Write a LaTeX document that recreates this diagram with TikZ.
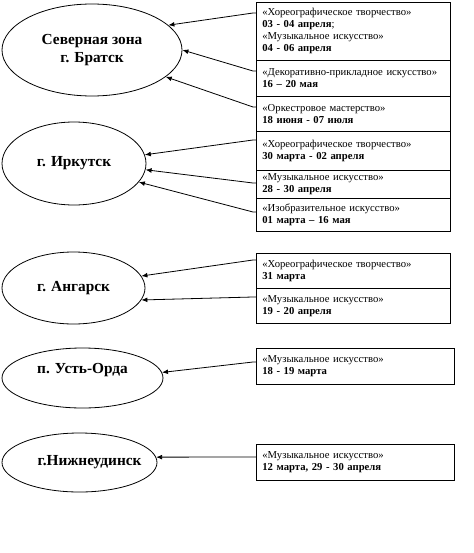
\documentclass[tikz,border=0pt]{standalone}
\usepackage{fontspec}
\setmainfont{Liberation Serif}
\usetikzlibrary{shapes.geometric, arrows.meta}
\tikzset{
  town/.style={ellipse, draw, line width=0.6pt, inner sep=0pt, align=center,
    font=\bfseries\fontsize{11.5}{13.5}\selectfont},
  event/.style={draw, line width=0.6pt, anchor=north west, align=left,
    text width=136.5pt, inner xsep=4.5pt, inner ysep=2pt,
    font=\fontsize{8}{9}\selectfont},
  eventwide/.style={event, text width=139.5pt},
  conn/.style={line width=0.6pt, -{Latex[length=4.5pt,width=3.6pt]}}
}
\begin{document}
\begin{tikzpicture}[x=0.75pt, y=-0.75pt]
            \useasboundingbox (0,0) rectangle (474,553);
            \node[town, minimum width=135pt, minimum height=69pt] (bratsk) at (92,50) {Северная зона\\г. Братск};
            \node[town, minimum width=108pt, minimum height=62.25pt] (irkutsk) at (74,163.5) {г. Иркутск};
            \node[town, minimum width=107.25pt, minimum height=54pt] (angarsk) at (73.5,288) {г. Ангарск};
            \node[town, minimum width=120.75pt, minimum height=45pt] (ustorda) at (82.5,378) {\raisebox{6pt}[\height][\depth]{п. Усть-Орда}};
            \node[town, minimum width=116.25pt, minimum height=44.25pt] (nizhn) at (79.5,462.5) {\makebox[0pt]{\hspace{15pt}г.Нижнеудинск}};
            \node[event, minimum height=43.5pt] (brA) at (256,2) {«Хореографическое творчество»\\\textbf{03 - 04 апреля};\\«Музыкальное искусство»\\\textbf{04 - 06 апреля}};
            \node[event, minimum height=27pt] (brB) at (256,60) {«Декоративно-прикладное искусство»\\\textbf{16 – 20 мая}};
            \node[event, minimum height=26.25pt] (brC) at (256,96) {«Оркестровое мастерство»\\\textbf{18 июня - 07 июля}};
            \node[event, minimum height=29.25pt] (irA) at (256,131) {«Хореографическое творчество»\\\textbf{30 марта - 02 апреля}};
            \node[event, minimum height=21pt] (irB) at (256,170) {«Музыкальное искусство»\\\textbf{28 - 30 апреля}};
            \node[event, minimum height=24.75pt] (irC) at (256,198) {«Изобразительное искусство»\\\textbf{01 марта – 16 мая}};
            \node[event, minimum height=26.25pt] (anA) at (256,253) {«Хореографическое творчество»\\\textbf{31 марта}};
            \node[event, minimum height=26.25pt] (anB) at (256,288) {«Музыкальное искусство»\\\textbf{19 - 20 апреля}};
            \node[eventwide, minimum height=27pt] (uoA) at (256,348) {«Музыкальное искусство»\\\textbf{18 - 19 марта}};
            \node[eventwide, minimum height=27pt] (niA) at (256,444) {«Музыкальное искусство»\\\textbf{12 марта, 29 - 30 апреля}};
            \draw[conn] ([yshift=-8.25pt]brA.north west) -- ++(-3,0) -- (bratsk.18);
            \draw[conn] ([yshift=-8.25pt]brB.north west) -- ++(-3,0) -- (bratsk.0);
            \draw[conn] ([yshift=-8.25pt]brC.north west) -- ++(-3,0) -- (bratsk.-20);
            \draw[conn] ([yshift=-6.75pt]irA.north west) -- ++(-3,0) -- (irkutsk.7);
            \draw[conn] ([yshift=-9.75pt]irB.north west) -- ++(-3,0) -- (irkutsk.-5);
            \draw[conn] ([yshift=-10.5pt]irC.north west) -- ++(-3,0) -- (irkutsk.-16);
            \draw[conn] ([yshift=-5.25pt]anA.north west) -- ++(-3,0) -- (angarsk.10);
            \draw[conn] ([yshift=-6.75pt]anB.north west) -- ++(-3,0) -- (angarsk.-10);
            \draw[conn] ([yshift=-10.5pt]uoA.north west) -- ++(-3,0) -- (ustorda.4);
            \draw[conn] ([yshift=-9.75pt]niA.north west) -- ++(-3,0) -- (nizhn.4);
        \end{tikzpicture}
\end{document}
